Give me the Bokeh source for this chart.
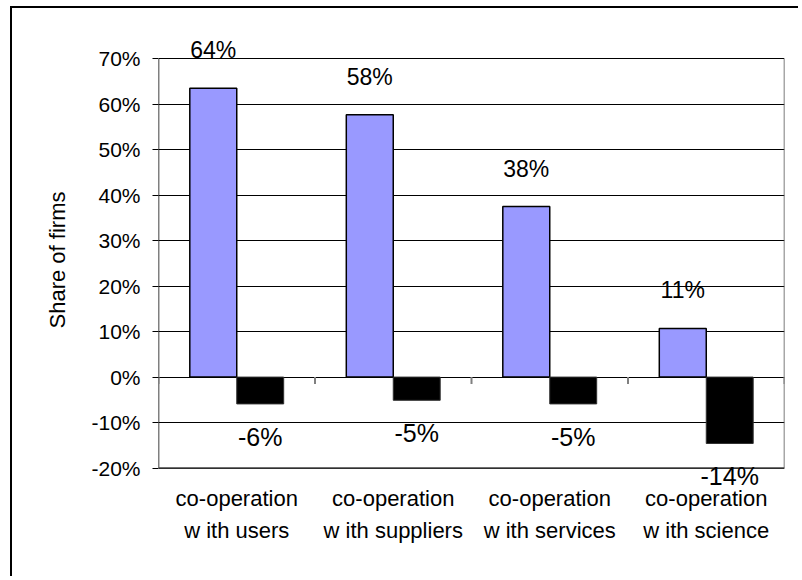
from bokeh.plotting import figure
from bokeh.models import ColumnDataSource, FixedTicker, Range1d, LabelSet
from bokeh.core.properties import value
from bokeh.embed import file_html
from bokeh.resources import INLINE

# ---- data ----
categories = ["co-operation\nw ith users", "co-operation\nw ith suppliers",
              "co-operation\nw ith services", "co-operation\nw ith science"]
positive_share = [63.5, 57.7, 37.5, 10.7]
negative_share = [-5.9, -5.1, -5.9, -14.6]
positive_labels = ["64%", "58%", "38%", "11%"]
negative_labels = ["-6%", "-5%", "-5%", "-14%"]
y_ticks = [-20, -10, 0, 10, 20, 30, 40, 50, 60, 70]

FONT = "Liberation Sans"
n = len(categories)
centers = [i + 0.5 for i in range(n)]
bar_w = 0.3
y_lo, y_hi = y_ticks[0], y_ticks[-1]

# the frame is a bit taller than the value axis so that data labels are not clipped
p = figure(width=788, height=570, output_backend="svg", toolbar_location=None,
           x_range=Range1d(0, n), y_range=Range1d(y_lo - 4.5, y_hi + 6),
           min_border_left=146, min_border_right=16, min_border_top=23,
           min_border_bottom=90)
p.styles = {"margin-left": "10px", "margin-top": "6px",
            "border-top": "2px solid black", "border-left": "2px solid black"}
p.background_fill_color = "white"
p.border_fill_color = "white"
p.outline_line_color = None

# grid
p.xgrid.visible = False
p.ygrid.ticker = FixedTicker(ticks=y_ticks)
p.ygrid.grid_line_color = "black"
p.ygrid.grid_line_width = 1

# y axis
p.yaxis.ticker = FixedTicker(ticks=y_ticks)
p.yaxis.major_label_overrides = {t: f"{t}%" for t in y_ticks}
p.yaxis.axis_label = "Share of firms"
p.yaxis.axis_label_text_font = FONT
p.yaxis.axis_label_text_font_size = "22px"
p.yaxis.axis_label_text_font_style = "normal"
p.yaxis.axis_label_text_color = "black"
p.yaxis.axis_label_standoff = 18
p.yaxis.major_label_text_font = FONT
p.yaxis.major_label_text_font_size = "21px"
p.yaxis.major_label_text_color = "black"
p.yaxis.major_label_standoff = 12
p.yaxis.major_tick_out = 6
p.yaxis.major_tick_in = 0
p.yaxis.minor_tick_out = 0
p.yaxis.minor_tick_in = 0
p.yaxis.axis_line_color = None
p.yaxis.major_tick_line_color = "black"

# x axis (labels only)
p.xaxis.ticker = FixedTicker(ticks=centers)
p.xaxis.major_label_overrides = {c: lab for c, lab in zip(centers, categories)}
p.xaxis.major_label_text_font = FONT
p.xaxis.major_label_text_font_size = "22px"
p.xaxis.major_label_text_color = "black"
p.xaxis.major_label_text_line_height = 1.3
p.xaxis.major_label_standoff = -3
p.xaxis.major_tick_out = 0
p.xaxis.major_tick_in = 0
p.xaxis.minor_tick_out = 0
p.xaxis.minor_tick_in = 0
p.xaxis.axis_line_color = None

# plot-area box: left (value axis line), right and bottom edges
p.segment(x0=[0], y0=[y_lo], x1=[0], y1=[y_hi], line_color="black", line_width=1.5)
p.segment(x0=[n], y0=[y_lo], x1=[n], y1=[y_hi], line_color="#505050", line_width=1.5)
p.segment(x0=[0], y0=[y_lo], x1=[n], y1=[y_lo], line_color="#404040", line_width=1.5)

src = ColumnDataSource(dict(
    xp=[c - bar_w / 2 for c in centers],
    xn=[c + bar_w / 2 for c in centers],
    pos=positive_share, neg=negative_share,
    plab=positive_labels, nlab=negative_labels,
))

# category separator ticks on the zero line
p.segment(x0=list(range(n + 1)), y0=[0] * (n + 1), x1=list(range(n + 1)),
          y1=[-1.5] * (n + 1), line_color="#808080", line_width=2)

p.vbar(x="xp", top="pos", bottom=0, width=bar_w, source=src,
       fill_color="#9999FF", line_color="black", line_width=1.5)
p.vbar(x="xn", top=0, bottom="neg", width=bar_w, source=src,
       fill_color="black", line_color="#303030", line_width=1)

p.add_layout(LabelSet(x="xp", y="pos", text="plab", source=src, y_offset=38,
                      text_align="center", text_baseline="middle",
                      text_font=value(FONT), text_font_size="23px",
                      text_color="black"))
p.add_layout(LabelSet(x="xn", y="neg", text="nlab", source=src, y_offset=-33,
                      text_align="center", text_baseline="middle",
                      text_font=value(FONT), text_font_size="25px",
                      text_color="black"))

open("out.html", "w").write(file_html(p, INLINE))
